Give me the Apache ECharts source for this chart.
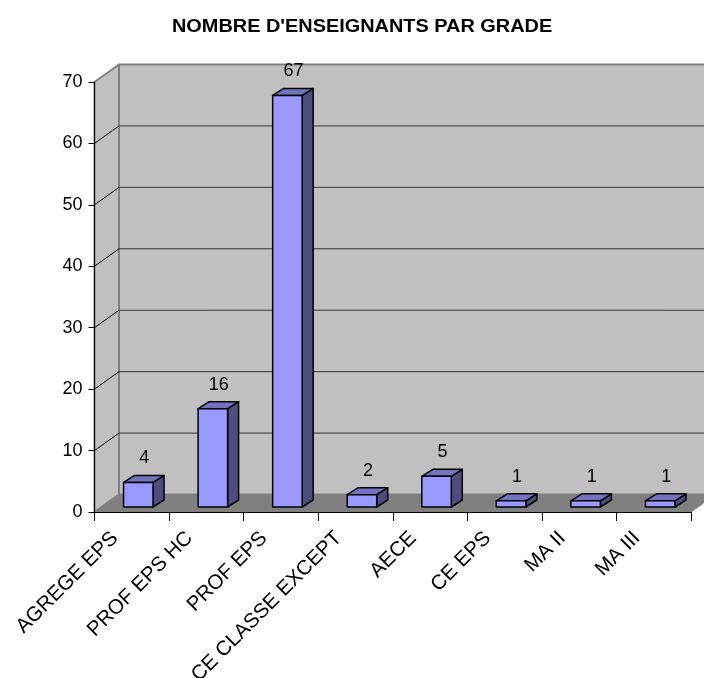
<!DOCTYPE html>
<html>
<head>
<meta charset="utf-8">
<style>
html, body { margin: 0; padding: 0; background: #fff; }
#chart { width: 704px; height: 678px; }
</style>
<script src="https://cdn.jsdelivr.net/npm/echarts@6/dist/echarts.min.js"></script>
</head>
<body>
<div id="chart"></div>
<script>
var categories = ['AGREGE EPS', 'PROF EPS HC', 'PROF EPS', 'CE CLASSE EXCEPT', 'AECE', 'CE EPS', 'MA II', 'MA III'];
var teachers = [4, 16, 67, 2, 5, 1, 1, 1];
var gridValues = [10, 20, 30, 40, 50, 60, 70];

// decalage de la perspective (fausse 3D)
var wallDx = 24.5, wallDy = -17.5;
var barDx = 11, barDy = -7;
var barWidth = 29.5, barShiftX = 6.5, barShiftY = -5;

function poly(points, fill, stroke, lineWidth) {
    return {
        type: 'polygon',
        shape: { points: points },
        style: { fill: fill, stroke: stroke, lineWidth: lineWidth, lineJoin: 'round' }
    };
}

function segment(x1, y1, x2, y2, stroke, lineWidth) {
    return {
        type: 'line',
        shape: { x1: x1, y1: y1, x2: x2, y2: y2 },
        style: { stroke: stroke, lineWidth: lineWidth }
    };
}

function renderWalls(params, api) {
    var rect = params.coordSys;
    var left = rect.x, right = rect.x + rect.width;
    var top = rect.y, bottom = rect.y + rect.height;
    var children = [
        // mur du fond
        poly([[left + wallDx, top + wallDy], [right + wallDx, top + wallDy], [right + wallDx, bottom + wallDy], [left + wallDx, bottom + wallDy]], '#C0C0C0', '#808080', 2),
        // mur de gauche
        poly([[left, top], [left + wallDx, top + wallDy], [left + wallDx, bottom + wallDy], [left, bottom]], '#C0C0C0', '#808080', 2),
        // sol
        poly([[left, bottom], [left + wallDx, bottom + wallDy], [right + wallDx, bottom + wallDy], [right, bottom]], '#808080', '#808080', 1)
    ];
    gridValues.slice(0, -1).forEach(function (v) {
        var y = api.coord([0, v])[1];
        children.push(segment(left, y, left + wallDx, y + wallDy, '#000', 1));
        children.push(segment(left + wallDx, y + wallDy, right + wallDx, y + wallDy, '#333', 1));
    });
    return { type: 'group', children: children };
}

function renderBar(params, api) {
    var base = api.coord([api.value(0), 0]);
    var head = api.coord([api.value(0), api.value(1)]);
    var x0 = base[0] + barShiftX - barWidth / 2;
    var x1 = x0 + barWidth;
    var y0 = base[1] + barShiftY;
    var y1 = head[1] + barShiftY;
    return {
        type: 'group',
        children: [
            poly([[x1, y1], [x1 + barDx, y1 + barDy], [x1 + barDx, y0 + barDy], [x1, y0]], '#4D4D80', '#000', 1.5),
            poly([[x0, y1], [x0 + barDx, y1 + barDy], [x1 + barDx, y1 + barDy], [x1, y1]], '#7373BF', '#000', 1.5),
            poly([[x0, y1], [x1, y1], [x1, y0], [x0, y0]], '#9999FF', '#000', 1.5),
            {
                type: 'text',
                style: {
                    text: String(api.value(1)),
                    x: x0 + barWidth / 2 + 6,
                    y: y1 - 24,
                    align: 'center',
                    verticalAlign: 'middle',
                    fill: '#000',
                    font: '18px "Liberation Sans", Arial, sans-serif'
                }
            }
        ]
    };
}

var chart = echarts.init(document.getElementById('chart'), null, { renderer: 'canvas' });
chart.setOption({
    animation: false,
    backgroundColor: '#fff',
    textStyle: { fontFamily: '"Liberation Sans", Arial, sans-serif' },
    // titre etire en largeur comme dans l'original
    graphic: [{
        type: 'text',
        x: 172,
        y: 27,
        scaleX: 1.137,
        style: {
            text: "NOMBRE D'ENSEIGNANTS PAR GRADE",
            verticalAlign: 'middle',
            fill: '#000',
            font: 'bold 17.5px "Liberation Sans", Arial, sans-serif'
        }
    }],
    grid: { left: 94.5, top: 82, width: 596.5, height: 430, outerBoundsMode: 'none' },
    xAxis: {
        type: 'category',
        data: categories,
        z: 10,
        axisLine: { show: true, lineStyle: { color: '#000', width: 1.2 } },
        axisTick: { show: true, length: 9, lineStyle: { color: '#000', width: 1 } },
        axisLabel: { interval: 0, rotate: 45, margin: 6, color: '#000', fontSize: 20.5, verticalAlign: 'middle', padding: [0, 24, 0, 0] },
        splitLine: { show: false }
    },
    yAxis: {
        type: 'value',
        min: 0,
        max: 70,
        interval: 10,
        z: 10,
        axisLine: { show: true, lineStyle: { color: '#000', width: 1 } },
        axisTick: { show: true, length: 6, lineStyle: { color: '#000', width: 1 } },
        axisLabel: { margin: 12, color: '#000', fontSize: 18, padding: [3, 0, 0, 0] },
        splitLine: { show: false }
    },
    series: [
        {
            type: 'custom',
            name: 'murs',
            z: 1,
            silent: true,
            clip: false,
            data: [[0, 0]],
            renderItem: renderWalls
        },
        {
            type: 'custom',
            name: "Nombre d'enseignants",
            z: 3,
            clip: false,
            data: teachers.map(function (v, i) { return [i, v]; }),
            encode: { x: 0, y: 1 },
            renderItem: renderBar
        }
    ]
});
</script>
</body>
</html>
